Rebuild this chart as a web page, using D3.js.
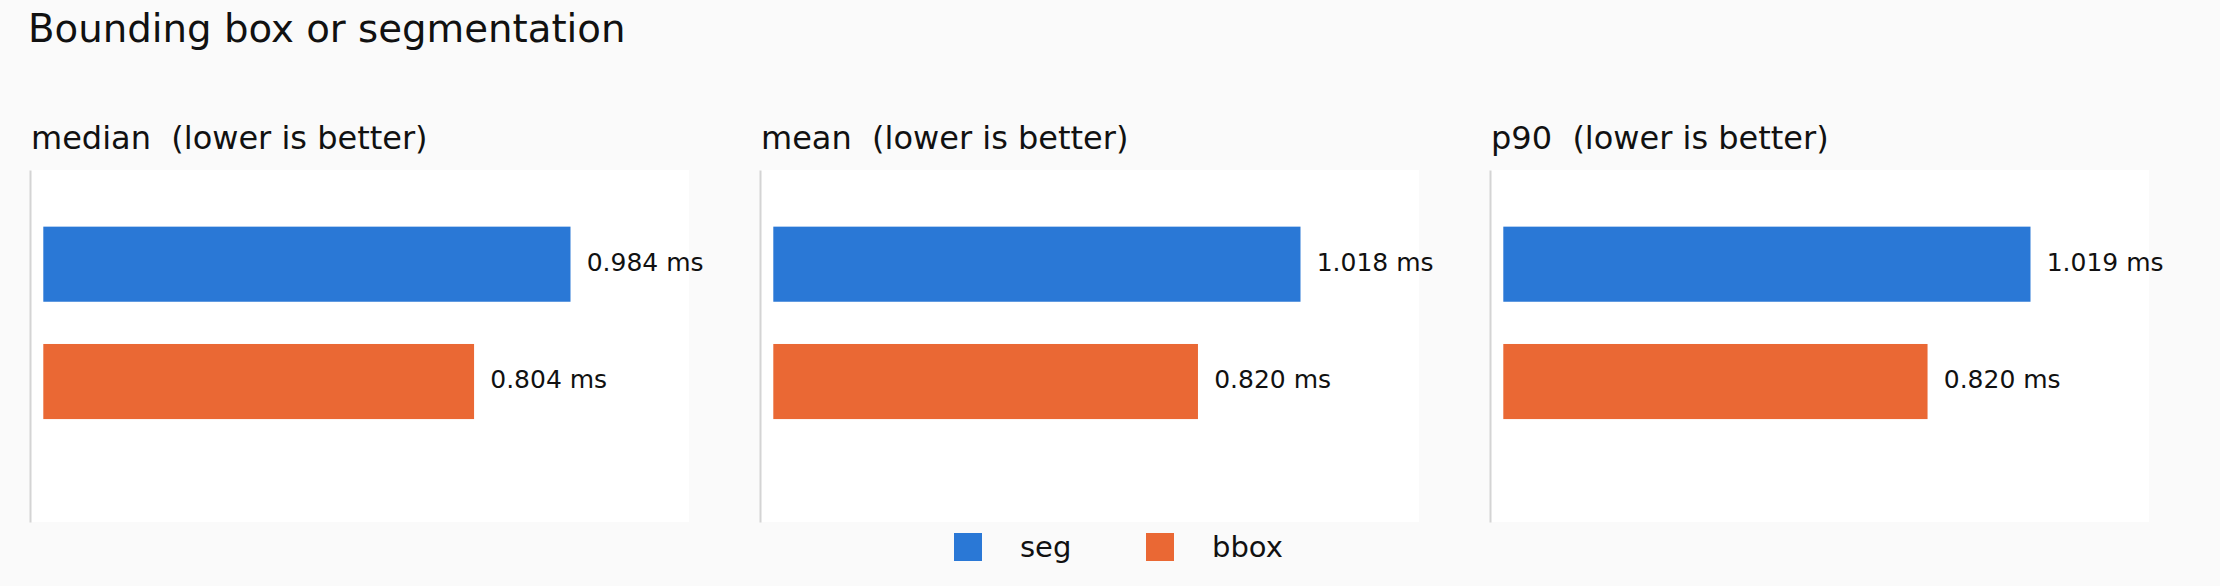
<!DOCTYPE html>
<html>
<head>
<meta charset="utf-8">
<script src="https://cdn.jsdelivr.net/npm/d3@7"></script>
<style>
  html, body { margin: 0; padding: 0; background: #fafafa; }
  svg { display: block; font-family: "DejaVu Sans", sans-serif; }
</style>
</head>
<body>
<svg id="chart" width="2220" height="586"></svg>
<script>
// ---- data ----
const chartTitle = "Bounding box or segmentation";
const metrics = ["median", "mean", "p90"];
const series = ["seg", "bbox"];
const segValues = [0.984, 1.018, 1.019];
const bboxValues = [0.804, 0.820, 0.820];
const seriesColors = ["#2a78d6", "#ea6834"];
const unitLabel = "ms";
const panelSuffix = "  (lower is better)";

// ---- layout ----
const W = 2220, H = 586;
const svg = d3.select("#chart");
svg.append("rect").attr("width", W).attr("height", H).attr("fill", "#fafafa");

svg.append("text")
  .attr("x", 28).attr("y", 42)
  .attr("font-size", 38.7).attr("fill", "#111")
  .text(chartTitle);

const panelX = d3.scalePoint().domain(metrics).range([30, 1490]);
const panelW = 659, panelTop = 170, panelH = 352;
const valuesBySeries = [segValues, bboxValues];
const color = d3.scaleOrdinal().domain(series).range(seriesColors);
const fmt = d3.format(".3f");

metrics.forEach((m, i) => {
  const x0 = panelX(m);
  const g = svg.append("g");
  const rows = series.map((s, k) => ({ s, v: valuesBySeries[k][i] }));
  const maxV = d3.max(rows, d => d.v);

  g.append("rect").attr("x", x0).attr("y", panelTop)
    .attr("width", panelW).attr("height", panelH).attr("fill", "#ffffff");

  g.append("text")
    .attr("x", x0 + 1).attr("y", 149)
    .attr("font-size", 32).attr("fill", "#111")
    .attr("xml:space", "preserve").style("white-space", "pre")
    .text(m + panelSuffix);

  const y = d3.scaleBand().domain(series)
    .range([panelTop, panelTop + panelH])
    .paddingInner(0.36).paddingOuter(0.68).align(0.355);
  const x = d3.scaleLinear().domain([0, maxV * 1.25])
    .range([x0 + 13.3, x0 + 13.3 + panelW]);

  g.selectAll("rect.bar").data(rows).join("rect")
    .attr("class", "bar")
    .attr("x", x(0)).attr("y", d => y(d.s))
    .attr("width", d => x(d.v) - x(0)).attr("height", y.bandwidth())
    .attr("fill", d => color(d.s));

  g.selectAll("text.val").data(rows).join("text")
    .attr("class", "val")
    .attr("x", d => x(d.v) + 16.2)
    .attr("y", d => y(d.s) + y.bandwidth() / 2)
    .attr("dy", "0.26em")
    .attr("font-size", 25).attr("fill", "#111")
    .text(d => fmt(d.v) + " " + unitLabel);

  const ax = g.append("g").attr("transform", `translate(${x0},0)`)
    .call(d3.axisLeft(y).tickSize(0).tickSizeOuter(0).tickFormat(""));
  ax.select(".domain").attr("stroke", "#d4d4d4").attr("stroke-width", 2);
  ax.selectAll(".tick").remove();
});

// ---- legend ----
const legendX = d3.scalePoint().domain(series).range([954, 1146]);
const lg = svg.append("g");
lg.selectAll("rect").data(series).join("rect")
  .attr("x", d => legendX(d)).attr("y", 533)
  .attr("width", 28).attr("height", 28)
  .attr("fill", d => color(d));
lg.selectAll("text").data(series).join("text")
  .attr("x", d => legendX(d) + 66).attr("y", 556.5)
  .attr("font-size", 29).attr("fill", "#111")
  .text(d => d);
</script>
</body>
</html>
